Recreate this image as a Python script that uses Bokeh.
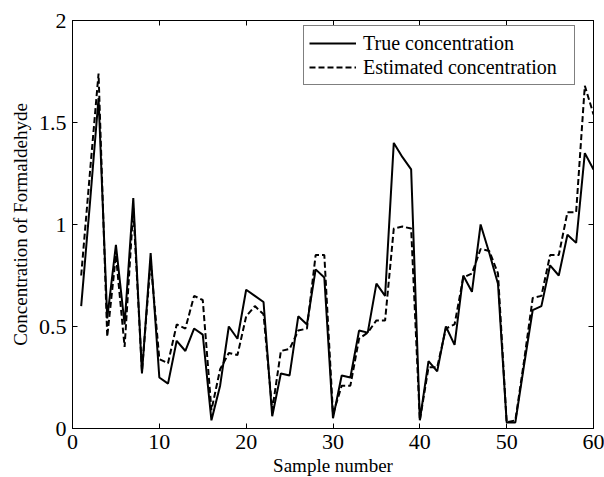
from bokeh.plotting import figure
from bokeh.models import LinearAxis, FixedTicker, NumeralTickFormatter, Range1d, Title
from bokeh.embed import file_html
from bokeh.resources import INLINE

samples = list(range(1, 61))
true_conc = [0.60, 1.10, 1.62, 0.54, 0.90, 0.51, 1.13, 0.27, 0.86, 0.25,
             0.22, 0.43, 0.38, 0.49, 0.46, 0.04, 0.21, 0.50, 0.44, 0.68,
             0.65, 0.62, 0.06, 0.27, 0.26, 0.55, 0.51, 0.78, 0.74, 0.05,
             0.26, 0.25, 0.48, 0.47, 0.71, 0.65, 1.40, 1.33, 1.27, 0.04,
             0.33, 0.28, 0.50, 0.41, 0.75, 0.67, 1.00, 0.86, 0.71, 0.03,
             0.03, 0.31, 0.58, 0.60, 0.80, 0.75, 0.95, 0.91, 1.35, 1.27]
est_conc = [0.75, 1.25, 1.74, 0.45, 0.85, 0.40, 1.08, 0.28, 0.82, 0.34,
            0.32, 0.51, 0.49, 0.65, 0.63, 0.09, 0.29, 0.37, 0.36, 0.55,
            0.60, 0.56, 0.09, 0.38, 0.39, 0.48, 0.49, 0.85, 0.85, 0.07,
            0.21, 0.21, 0.44, 0.47, 0.53, 0.53, 0.98, 0.99, 0.98, 0.04,
            0.30, 0.30, 0.49, 0.51, 0.74, 0.76, 0.88, 0.87, 0.76, 0.03,
            0.04, 0.33, 0.64, 0.65, 0.85, 0.85, 1.06, 1.06, 1.68, 1.54]

x_ticks = [0, 10, 20, 30, 40, 50, 60]
y_ticks = [0, 0.5, 1, 1.5, 2]
x_label = "Sample number"
y_label = "Concentration of Formaldehyde"

FONT = "Liberation Serif"

p = figure(width=604, height=477, output_backend="svg", toolbar_location=None,
           x_range=Range1d(0, 60), y_range=Range1d(0, 2),
           min_border_left=72, min_border_right=11, min_border_top=20,
           min_border_bottom=48)

p.line(samples, true_conc, line_color="black", line_width=2,
       legend_label="True concentration")
p.line(samples, est_conc, line_color="black", line_width=2, line_dash="6 3",
       legend_label="Estimated concentration")

p.grid.visible = False
p.outline_line_color = "black"
p.outline_line_width = 1
p.background_fill_color = "white"
p.border_fill_color = "white"

for ax in p.xaxis:
    ax.ticker = FixedTicker(ticks=x_ticks)
    ax.major_label_standoff = 6
for ax in p.yaxis:
    ax.ticker = FixedTicker(ticks=y_ticks)
    ax.formatter = NumeralTickFormatter(format="0.[0]")
    ax.major_label_standoff = 6

for ax in list(p.xaxis) + list(p.yaxis):
    ax.major_tick_in = 5
    ax.major_tick_out = 0
    ax.minor_tick_line_color = None
    ax.axis_line_color = "black"
    ax.major_tick_line_color = "black"
    ax.major_label_text_font = FONT
    ax.major_label_text_font_size = "22px"
    ax.major_label_text_color = "black"

xt = Title(text=x_label, align="center", text_font=FONT, text_font_size="19px",
           text_font_style="normal", text_color="black", standoff=3, offset=0)
yt = Title(text=y_label, align="center", text_font=FONT, text_font_size="19px",
           text_font_style="normal", text_color="black", standoff=10, offset=0)
p.add_layout(xt, "below")
p.add_layout(yt, "left")

top = LinearAxis(ticker=FixedTicker(ticks=x_ticks),
                 major_label_overrides={t: "" for t in x_ticks},
                 major_label_text_font_size="1px",
                 major_tick_in=5, major_tick_out=0, minor_tick_line_color=None,
                 major_label_standoff=0, axis_line_color="black")
right = LinearAxis(ticker=FixedTicker(ticks=y_ticks),
                   major_label_overrides={t: "" for t in y_ticks},
                   major_label_text_font_size="1px",
                   major_tick_in=5, major_tick_out=0, minor_tick_line_color=None,
                   major_label_standoff=0, axis_line_color="black")
p.add_layout(top, "above")
p.add_layout(right, "right")

lg = p.legend[0]
lg.location = (231, 343)
lg.border_line_color = "black"
lg.border_line_width = 1
lg.background_fill_color = "white"
lg.background_fill_alpha = 1
lg.label_text_font = FONT
lg.label_text_font_size = "20px"
lg.label_text_color = "black"
lg.glyph_width = 47
lg.glyph_height = 24
lg.label_height = 24
lg.label_width = 206
lg.label_standoff = 7
lg.padding = 5
lg.spacing = 0
lg.margin = 0

open("out.html", "w").write(file_html(p, INLINE))
